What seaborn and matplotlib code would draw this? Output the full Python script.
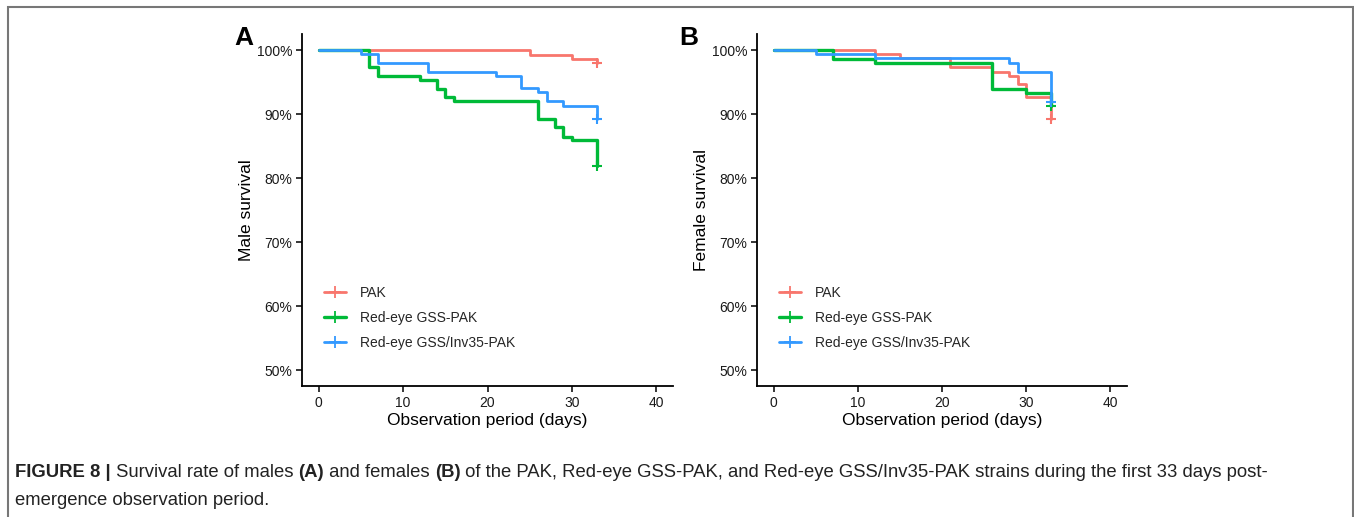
import numpy as np
import pandas as pd
import matplotlib
matplotlib.use("Agg")
import matplotlib.pyplot as plt
from matplotlib.lines import Line2D
from matplotlib.patches import Rectangle
from matplotlib.ticker import FuncFormatter
import seaborn as sns

# ---------------- data ----------------
strains = ["PAK", "Red-eye GSS-PAK", "Red-eye GSS/Inv35-PAK"]
colors = ["#F8766D", "#00BA38", "#3399FF"]

# Males (panel A): event times (days) and survival (%)
male_pak_t = [0, 25, 30, 33]
male_pak_s = [100, 99.2, 98.6, 97.9]
male_gss_t = [0, 6, 7, 12, 14, 15, 16, 26, 28, 29, 30, 33]
male_gss_s = [100, 97.3, 96.0, 95.3, 93.9, 92.6, 92.0, 89.2, 87.9, 86.4, 85.9, 81.8]
male_inv_t = [0, 5, 7, 13, 21, 24, 26, 27, 29, 33]
male_inv_s = [100, 99.3, 97.9, 96.5, 95.9, 94.0, 93.4, 92.0, 91.3, 89.2]

# Females (panel B)
fem_pak_t = [0, 12, 15, 21, 26, 28, 29, 30, 33]
fem_pak_s = [100, 99.3, 98.7, 97.4, 96.5, 95.9, 94.7, 92.6, 89.2]
fem_gss_t = [0, 7, 12, 26, 30, 33]
fem_gss_s = [100, 98.6, 97.9, 93.9, 93.3, 91.2]
fem_inv_t = [0, 5, 12, 28, 29, 33]
fem_inv_s = [100, 99.3, 98.7, 98.0, 96.5, 91.8]

x_ticks = [0, 10, 20, 30, 40]
y_ticks = [50, 60, 70, 80, 90, 100]

panels = {
    "A": ("Male survival", [(male_pak_t, male_pak_s), (male_gss_t, male_gss_s), (male_inv_t, male_inv_s)]),
    "B": ("Female survival", [(fem_pak_t, fem_pak_s), (fem_gss_t, fem_gss_s), (fem_inv_t, fem_inv_s)]),
}

# ---------------- style ----------------
sns.set_style("white")
plt.rcParams["font.family"] = ["Liberation Sans", "DejaVu Sans"]

fig = plt.figure(figsize=(13.54, 5.17), dpi=100)
W, H = 1354, 517

def px_axes(l, t, r, b):
    return fig.add_axes([l / W, 1 - b / H, (r - l) / W, (b - t) / H])

ax_pos = {"A": (302, 34, 673, 386), "B": (757, 34, 1127, 386)}
lbl_pos = {"A": (234, 45), "B": (679, 45)}

for key, (ylabel, series) in panels.items():
    ax = px_axes(*ax_pos[key])
    rows = []
    for name, (t, s) in zip(strains, series):
        for ti, si in zip(t, s):
            rows.append({"time": ti, "surv": si, "strain": name})
    df = pd.DataFrame(rows)
    for name, col in zip(strains, colors):
        sub = df[df["strain"] == name]
        lw = 2.4 if name == "Red-eye GSS-PAK" else 2.0
        sns.lineplot(data=sub, x="time", y="surv", color=col, drawstyle="steps-post",
                     estimator=None, sort=False, linewidth=lw, ax=ax, legend=False)
        last = sub.iloc[[-1]]
        sns.scatterplot(data=last, x="time", y="surv", color=col, marker="+", s=60,
                        linewidth=1.5, ax=ax, legend=False, zorder=5)
    ax.set_xlim(-2, 42)
    ax.set_ylim(47.5, 102.5)
    ax.set_xticks(x_ticks)
    ax.set_yticks(y_ticks)
    ax.yaxis.set_major_formatter(FuncFormatter(lambda v, p: f"{int(v)}%"))
    for side in ["top", "right"]:
        ax.spines[side].set_visible(False)
    for side in ["left", "bottom"]:
        ax.spines[side].set_color("black")
        ax.spines[side].set_linewidth(1.3)
    ax.tick_params(axis="both", which="major", direction="out", length=4, width=1.1,
                   color="black", labelsize=10, labelcolor="#1a1a1a", left=True, bottom=True, pad=3)
    ax.set_xlabel("Observation period (days)", fontsize=12.5, color="black", labelpad=2)
    ax.set_ylabel(ylabel, fontsize=12.5, color="black", labelpad=2)
    ax.grid(False)

    handles = [Line2D([0], [0], color=c, lw=(2.4 if n == "Red-eye GSS-PAK" else 2.0),
                      marker="+", markersize=8, markeredgewidth=1.3)
               for n, c in zip(strains, colors)]
    ax.legend(handles, strains, loc="lower left", bbox_to_anchor=(0.045, 0.087),
              frameon=False, fontsize=10, handlelength=1.6, labelspacing=0.78,
              handletextpad=1.0, borderaxespad=0)

    lx, ly = lbl_pos[key]
    fig.text(lx / W, 1 - ly / H, key, fontsize=19, fontweight="bold", ha="left", va="baseline",
             color="black")

# figure border
fig.add_artist(Rectangle((7.5 / W, -0.05), (1352.5 - 7.5) / W, 1.05 - 6.5 / H,
                         transform=fig.transFigure, fill=False, edgecolor="#777777", linewidth=1.5))

# caption with mixed bold segments
fig.canvas.draw()
renderer = fig.canvas.get_renderer()

def put_segments(segments, x0, y0, size=13.3):
    x = x0
    for txt, bold in segments:
        t = fig.text(x / W, 1 - y0 / H, txt, fontsize=size,
                     fontweight="bold" if bold else "normal", ha="left", va="baseline",
                     color="#222222")
        bb = t.get_window_extent(renderer=renderer)
        x += bb.width

line1 = [("FIGURE 8 |", True), (" Survival rate of males ", False), ("(A)", True),
         (" and females ", False), ("(B)", True),
         (" of the PAK, Red-eye GSS-PAK, and Red-eye GSS/Inv35-PAK strains during the first 33 days post-", False)]
line2 = [("emergence observation period.", False)]
put_segments(line1, 15, 477)
put_segments(line2, 15, 505)

fig.savefig("out.png", dpi=100)
